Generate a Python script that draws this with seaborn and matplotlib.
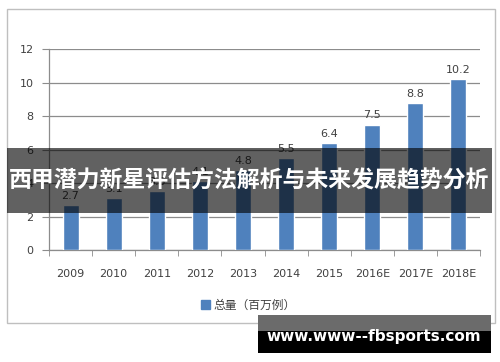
import matplotlib
matplotlib.use("Agg")
import matplotlib.pyplot as plt
import matplotlib.patches as mpatches
import seaborn as sns
import pandas as pd

years = ["2009", "2010", "2011", "2012", "2013", "2014", "2015", "2016E", "2017E", "2018E"]
totals = [2.7, 3.1, 3.5, 4.1, 4.8, 5.5, 6.4, 7.5, 8.8, 10.2]
series_name = "总量（百万例）"
banner_text = "西甲潜力新星评估方法解析与未来发展趋势分析"
watermark_text = "www.www--fbsports.com"

sns.set_style("white")
plt.rcParams["font.family"] = ["DejaVu Sans", "Noto Sans CJK SC"]

df = pd.DataFrame({"year": years, "total": totals})

fig = plt.figure(figsize=(5.0, 3.62), dpi=100)
ax = fig.add_axes([49 / 500, 1 - 250 / 362, 431 / 500, 200.7 / 362])

bar_color = "#4f81bd"
sns.barplot(data=df, x="year", y="total", color=bar_color, width=0.37,
            saturation=1, ax=ax, zorder=3)

ax.set_ylim(0, 12)
ax.set_xlim(-0.5, len(years) - 0.5)
ax.set_yticks(range(0, 13, 2))
ax.yaxis.grid(True, color="#8c8c8c", linewidth=0.9, zorder=0)
ax.set_axisbelow(True)
ax.set_xlabel("")
ax.set_ylabel("")

for s in ["top", "right"]:
    ax.spines[s].set_visible(False)
ax.spines["left"].set_color("#8c8c8c")
ax.spines["bottom"].set_color("#8c8c8c")
ax.spines["left"].set_linewidth(0.9)
ax.spines["bottom"].set_linewidth(0.9)

ax.tick_params(axis="y", left=True, length=5, color="#8c8c8c", labelsize=8,
               labelcolor="#404040", pad=6)
ax.tick_params(axis="x", which="major", length=0, labelsize=8,
               labelcolor="#404040", pad=14)
ax.set_xticks([i - 0.5 for i in range(len(years) + 1)], minor=True)
ax.tick_params(axis="x", which="minor", bottom=True, length=4, color="#8c8c8c")

for c in ax.containers:
    ax.bar_label(c, fmt="%.1f", padding=3, fontsize=8, color="#404040")

# outer chart frame
fig.patches.append(mpatches.Rectangle((7 / 500, 1 - 323 / 362), 488 / 500, 314 / 362,
                                      transform=fig.transFigure, fill=False,
                                      edgecolor="#bfbfbf", linewidth=1, zorder=0))

# legend
handle = mpatches.Patch(color=bar_color, label=series_name)
fig.legend(handles=[handle], loc="center", bbox_to_anchor=(0.497, 1 - 305 / 362),
           frameon=False, fontsize=8.5, handlelength=0.7, handleheight=0.7,
           handletextpad=0.3, labelcolor="#404040")

# banner overlay
fig.patches.append(mpatches.Rectangle((7 / 500, 1 - 213 / 362), 485 / 500, 65 / 362,
                                      transform=fig.transFigure, facecolor="black",
                                      alpha=0.62, edgecolor="none", zorder=10))
fig.text(249.5 / 500, 1 - 181 / 362, banner_text, ha="center", va="center",
         color="white", fontsize=16.5, fontweight="bold",
         family=["Noto Sans CJK SC", "DejaVu Sans"], zorder=11)

# watermark
fig.patches.append(mpatches.Rectangle((258 / 500, 1 - 331 / 362), 233 / 500, 16 / 362,
                                      transform=fig.transFigure, facecolor="#6b6b6b",
                                      edgecolor="none", zorder=10))
fig.patches.append(mpatches.Rectangle((258 / 500, 1 - 353 / 362), 233 / 500, 22 / 362,
                                      transform=fig.transFigure, facecolor="black",
                                      edgecolor="none", zorder=10))
fig.text(373.5 / 500, 1 - 337 / 362, watermark_text, ha="center", va="center",
         color="white", fontsize=11, fontweight="bold", zorder=11)

fig.savefig("out.png", dpi=100)
